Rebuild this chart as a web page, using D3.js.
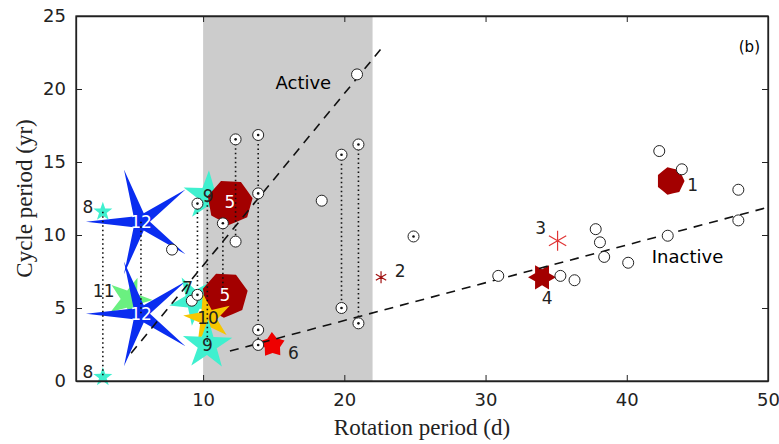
<!DOCTYPE html>
<html>
<head>
<meta charset="UTF-8">
<title>Cycle vs rotation period</title>
<script src="https://cdn.jsdelivr.net/npm/d3@7"></script>
<style>
  body{margin:0;background:#fff;}
  .tick text{font-family:"DejaVu Sans",sans-serif;font-size:18px;fill:#222;}
  .axlabel{font-family:"Liberation Serif","DejaVu Serif",serif;font-size:23px;fill:#222;}
  .num{font-family:"DejaVu Sans",sans-serif;font-size:17px;}
</style>
</head>
<body>
<svg width="779" height="444"></svg>
<script>
// plain open circles [rotation d, cycle yr]
var plainCircles = [[20.9,21.0],[7.8,9.0],[9.2,5.5],[12.3,9.55],[18.4,12.35],[30.9,7.2],[35.3,7.2],
  [36.3,6.9],[37.8,10.4],[38.1,9.5],[38.4,8.5],[40.1,8.1],[42.3,15.75],[43.9,14.5],[42.9,9.95],
  [47.9,13.1],[47.9,11.0]];
// circles with central dot
var dotCircles = [[9.6,12.15],[9.6,5.9],[11.4,10.8],[12.3,16.55],[13.9,16.85],[13.9,12.85],
  [13.9,3.5],[13.9,2.47],[19.8,15.5],[19.8,5.0],[21.0,16.2],[21.0,3.95],[24.9,9.9]];
// vertical dotted links [x, y1, y2]
var links = [[2.9,11.6,0.27],[5.6,10.9,4.6],[9.6,12.15,5.9],[10.3,12.65,2.5],[11.4,10.8,5.9],
  [12.3,16.55,9.55],[13.9,16.85,2.47],[19.8,15.5,5.0],[21.0,16.2,3.95]];
// numbered stars (drawn in this order)
var starNames = ["11","12","12","8","8","9","5","7","5","10","9","6","2","3","4","1"];
var starX = [4.8,5.6,5.6,2.9,2.9,10.35,11.9,9.4,11.55,10.35,10.3,14.9,22.6,35.1,34.0,43.1];
var starY = [5.6,10.9,4.6,11.6,0.27,12.65,12.25,5.55,5.9,4.3,2.47,2.47,7.1,9.6,7.1,13.7];
// fit lines
var activeLine = [[4.9,1.9],[22.6,22.75]];
var inactiveLine = [[11.9,2.05],[50,11.9]];
var xTicks = [10,20,30,40,50];
var yTicks = [0,5,10,15,20,25];

var svg = d3.select("svg"),
    margin = {top:16, right:11, bottom:63, left:76},
    width = +svg.attr("width") - margin.left - margin.right,
    height = +svg.attr("height") - margin.top - margin.bottom;

var x = d3.scaleLinear().domain([1,50]).range([0,width]);
var y = d3.scaleLinear().domain([0,25]).range([height,0]);

var g = svg.append("g").attr("transform","translate("+margin.left+","+margin.top+")");

// shaded band 10-22 d
g.append("rect").attr("x",x(10)).attr("y",0).attr("width",x(22)-x(10)).attr("height",height)
  .attr("fill","#cccccc");

// star/polygon path
function starPath(n, ro, ri, rot){
  var pts = [];
  for (var i = 0; i < 2*n; i++){
    var r = i%2 ? ri : ro, a = (rot + i*180/n)*Math.PI/180;
    pts.push([r*Math.cos(a), -r*Math.sin(a)]);
  }
  return "M" + pts.join("L") + "Z";
}
function polyPath(n, r, rot){ return starPath(n, r, r*Math.cos(Math.PI/n), rot); }
function asterisk(n, r, rot){
  var s = "";
  for (var i = 0; i < n; i++){
    var a = (rot + i*360/n)*Math.PI/180;
    s += "M0,0L" + (r*Math.cos(a)) + "," + (-r*Math.sin(a));
  }
  return s;
}

var styles = {
  "12": {d: starPath(5,55,9,180), fill:"#0a2df0", txt:"#fff", dx:0, dy:0},
  "11": {d: starPath(5,23,9,70), fill:"#6af080", txt:"#222", dx:-26, dy:-8},
  "8":  {d: starPath(5,10,4,90), fill:"#3ff0cf", txt:"#222", dx:-15, dy:-5},
  "9":  {d: starPath(5,26,10,160), fill:"#3ff0cf", txt:"#222", dx:0, dy:0},
  "7":  {d: starPath(5,26,10,120), fill:"#3ff0cf", txt:"#222", dx:-7, dy:-12},
  "5":  {d: polyPath(7,23,10), fill:"#a30000", txt:"#fff", dx:0, dy:0},
  "10": {d: starPath(5,25,9,30), fill:"#f7c600", txt:"#222", dx:0, dy:0},
  "6":  {d: starPath(5,13,8,20), fill:"#ee0000", txt:"#222", dx:21, dy:8},
  "2":  {d: asterisk(6,6,90), fill:"none", stroke:"#a01010", txt:"#222", dx:19, dy:-6},
  "3":  {d: asterisk(6,10,90), fill:"none", stroke:"#e03535", txt:"#222", dx:-17, dy:-13},
  "4":  {d: starPath(6,14,8,0), fill:"#a30000", txt:"#222", dx:5, dy:21},
  "1":  {d: polyPath(7,14,0), fill:"#a30000", txt:"#222", dx:22, dy:4}
};

var stars = starNames.map(function(n,i){ return {name:n, x:starX[i], y:starY[i]}; });

g.selectAll(".star").data(stars).enter().append("path")
  .attr("class","star")
  .attr("transform",function(d){ return "translate("+x(d.x)+","+y(d.y)+")"; })
  .attr("d",function(d){ return styles[d.name].d; })
  .attr("fill",function(d){ return styles[d.name].fill; })
  .attr("stroke",function(d){ return styles[d.name].stroke || "none"; })
  .attr("stroke-width",1.2);

// dashed fits
var line = d3.line().x(function(d){return x(d[0]);}).y(function(d){return y(d[1]);});
[activeLine, inactiveLine].forEach(function(l){
  g.append("path").attr("d",line(l)).attr("fill","none").attr("stroke","#111")
    .attr("stroke-width",1.6).attr("stroke-dasharray","9,7");
});

// dotted links
g.selectAll(".link").data(links).enter().append("line")
  .attr("x1",function(d){return x(d[0]);}).attr("x2",function(d){return x(d[0]);})
  .attr("y1",function(d){return y(d[1]);}).attr("y2",function(d){return y(d[2]);})
  .attr("stroke","#111").attr("stroke-width",1.6).attr("stroke-dasharray","1.5,3");

// circles
g.selectAll(".pc").data(plainCircles).enter().append("circle")
  .attr("cx",function(d){return x(d[0]);}).attr("cy",function(d){return y(d[1]);})
  .attr("r",5.5).attr("fill","#fff").attr("stroke","#222").attr("stroke-width",1);
var dc = g.selectAll(".dc").data(dotCircles).enter().append("g")
  .attr("transform",function(d){return "translate("+x(d[0])+","+y(d[1])+")";});
dc.append("circle").attr("r",5.5).attr("fill","#fff").attr("stroke","#222").attr("stroke-width",1);
dc.append("circle").attr("r",1.3).attr("fill","#111");

// star labels
g.selectAll(".num").data(stars).enter().append("text")
  .attr("class","num")
  .attr("x",function(d){return x(d.x)+styles[d.name].dx;})
  .attr("y",function(d){return y(d.y)+styles[d.name].dy;})
  .attr("dy","0.36em").attr("text-anchor","middle")
  .attr("fill",function(d){return styles[d.name].txt;})
  .text(function(d){return d.name;});

// text annotations
g.append("text").attr("class","num").attr("x",x(17.1)).attr("y",y(20.45)).attr("dy","0.36em")
  .attr("text-anchor","middle").style("font-size","18px").text("Active");
g.append("text").attr("class","num").attr("x",x(44.3)).attr("y",y(8.55)).attr("dy","0.36em")
  .attr("text-anchor","middle").style("font-size","18px").text("Inactive");
g.append("text").attr("class","num").attr("x",width-8).attr("y",y(22.9)).attr("dy","0.36em")
  .attr("text-anchor","end").style("font-size","15px").text("(b)");

// axes (inward ticks)
g.append("g").attr("transform","translate(0,"+height+")")
  .call(d3.axisBottom(x).tickValues(xTicks).tickSizeInner(-6).tickSizeOuter(0).tickPadding(12));
g.append("g").call(d3.axisTop(x).tickValues(xTicks).tickSizeInner(-6).tickSizeOuter(0).tickFormat(""));
g.append("g").call(d3.axisLeft(y).tickValues(yTicks).tickSizeInner(-6).tickSizeOuter(0).tickPadding(10));
g.append("g").attr("transform","translate("+width+",0)")
  .call(d3.axisRight(y).tickValues(yTicks).tickSizeInner(-6).tickSizeOuter(0).tickFormat(""));
g.selectAll(".domain").attr("stroke","#222").attr("stroke-width",1.3);
g.selectAll(".tick line").attr("stroke","#222");
g.append("rect").attr("width",width).attr("height",height).attr("fill","none")
  .attr("stroke","#222").attr("stroke-width",1.3);

svg.append("text").attr("class","axlabel").attr("text-anchor","middle")
  .attr("x",margin.left + x(25.5)).attr("y",435).text("Rotation period (d)");
svg.append("text").attr("class","axlabel").attr("text-anchor","middle")
  .attr("transform","translate(32,"+(margin.top+y(12.5))+") rotate(-90)").text("Cycle period (yr)");
</script>
</body>
</html>
